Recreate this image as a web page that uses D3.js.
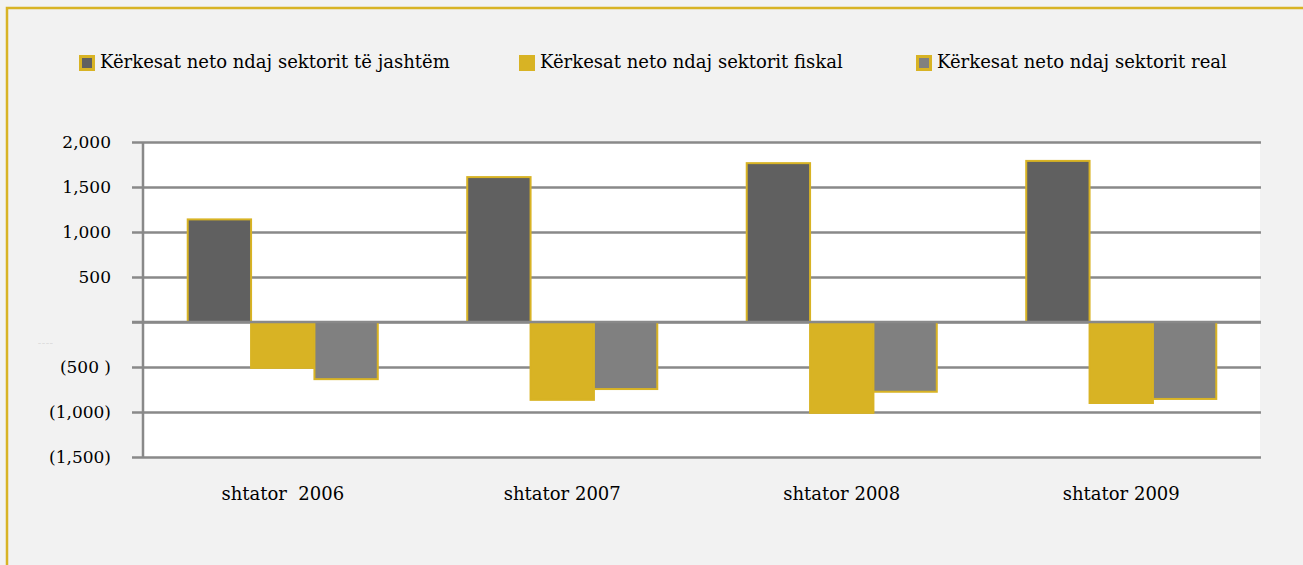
<!DOCTYPE html>
<html>
<head>
<meta charset="utf-8">
<script src="https://cdn.jsdelivr.net/npm/d3@7"></script>
<style>
  body { margin: 0; background: #f2f2f2; }
  svg { display: block; }
</style>
</head>
<body>
<svg class="chart"></svg>
<script>
// data
var categories = ["shtator  2006", "shtator 2007", "shtator 2008", "shtator 2009"];
var seriesNames = ["Kërkesat neto ndaj sektorit të jashtëm", "Kërkesat neto ndaj sektorit fiskal", "Kërkesat neto ndaj sektorit real"];
var jashtem = [1140, 1610, 1765, 1790];
var fiskal = [-510, -865, -1010, -900];
var real = [-635, -745, -775, -855];
var tickValues = [2000, 1500, 1000, 500, 0, -500, -1000, -1500];
var tickLabels = ["2,000", "1,500", "1,000", "500", "", "(500 )", "(1,000)", "(1,500)"];

var colors = ["#606060", "#d8b324", "#808080"];
var gold = "#d8b324";
var fontFam = "'DejaVu Serif', serif";

var W = 1303, H = 565;
var margin = {top: 142, right: 42, bottom: 108, left: 143},
	width = W - margin.left - margin.right,
	height = H - margin.top - margin.bottom;

var svg = d3.select(".chart")
	.attr("width", W)
	.attr("height", H);

// outer frame, gold on top and left
svg.append("rect")
	.attr("x", 7).attr("y", 8)
	.attr("width", W).attr("height", H)
	.attr("fill", "#f2f2f2")
	.attr("stroke", gold)
	.attr("stroke-width", 2.5);

var g = svg.append("g")
	.attr("transform", "translate(" + margin.left + "," + margin.top + ")");

var y = d3.scaleLinear().domain([-1500, 2000]).range([height, 0]);
var x0 = d3.scaleBand().domain(categories).range([0, width]).paddingInner(0.32).paddingOuter(0.16);
var x1 = d3.scaleBand().domain([0, 1, 2]).range([0, x0.bandwidth()]);

var rows = categories.map(function(c, i) {
	return {cat: c, vals: [jashtem[i], fiskal[i], real[i]]};
});

// plot background
g.append("rect")
	.attr("width", width - 1).attr("height", height)
	.attr("fill", "#ffffff");

// grid lines + y axis
var yAxis = d3.axisLeft(y)
	.tickValues(tickValues)
	.tickSize(-width - 11)
	.tickFormat(function(d, i) { return tickLabels[i]; });

var ya = g.append("g")
	.attr("transform", "translate(-11,0)")
	.call(yAxis);
ya.select(".domain").remove();
ya.selectAll(".tick line")
	.attr("stroke", "#898989")
	.attr("stroke-width", 2.5);
ya.selectAll(".tick text")
	.attr("x", -21)
	.attr("fill", "#000")
	.style("font-family", fontFam)
	.style("font-size", "17px");

// vertical axis line
g.append("line")
	.attr("x1", 0).attr("x2", 0)
	.attr("y1", y(2000)).attr("y2", y(-1500) + 1)
	.attr("stroke", "#898989")
	.attr("stroke-width", 2.5);

// bars
var groups = g.selectAll(".grp")
	.data(rows)
	.enter().append("g")
	.attr("class", "grp")
	.attr("transform", function(d) { return "translate(" + x0(d.cat) + ",0)"; });

groups.selectAll("rect")
	.data(function(d) { return d.vals.map(function(v, k) { return {k: k, v: v}; }); })
	.enter().append("rect")
	.attr("x", function(d) { return x1(d.k); })
	.attr("width", x1.bandwidth())
	.attr("y", function(d) { return y(Math.max(0, d.v)); })
	.attr("height", function(d) { return Math.abs(y(d.v) - y(0)); })
	.attr("fill", function(d) { return colors[d.k]; })
	.attr("stroke", gold)
	.attr("stroke-width", 2);

// redraw zero line above bars
g.append("line")
	.attr("x1", -11).attr("x2", width)
	.attr("y1", y(0)).attr("y2", y(0))
	.attr("stroke", "#898989")
	.attr("stroke-width", 2.5);

// x labels
var xa = g.append("g")
	.attr("transform", "translate(0," + height + ")")
	.call(d3.axisBottom(x0).tickSize(0).tickPadding(30));
xa.select(".domain").remove();
xa.selectAll("text")
	.attr("fill", "#000")
	.style("font-family", fontFam)
	.style("font-size", "18px")
	.style("white-space", "pre");

// tiny stray mark left of the axis
svg.append("text")
	.attr("x", 38).attr("y", 344)
	.attr("fill", "#888")
	.style("font-family", fontFam)
	.style("font-size", "3px")
	.text("— — — —");

// legend
var legendX = [79, 519, 916];
var legend = svg.selectAll(".leg")
	.data(seriesNames)
	.enter().append("g")
	.attr("class", "leg")
	.attr("transform", function(d, i) { return "translate(" + legendX[i] + ",55)"; });
legend.append("rect")
	.attr("x", 1.5).attr("y", 1.5)
	.attr("width", 13).attr("height", 13)
	.attr("fill", function(d, i) { return colors[i]; })
	.attr("stroke", gold)
	.attr("stroke-width", 3);
legend.append("text")
	.attr("x", 21).attr("y", 7)
	.attr("dy", "0.35em")
	.attr("fill", "#000")
	.style("font-family", fontFam)
	.style("font-size", "18px")
	.text(function(d) { return d; });
</script>
</body>
</html>
